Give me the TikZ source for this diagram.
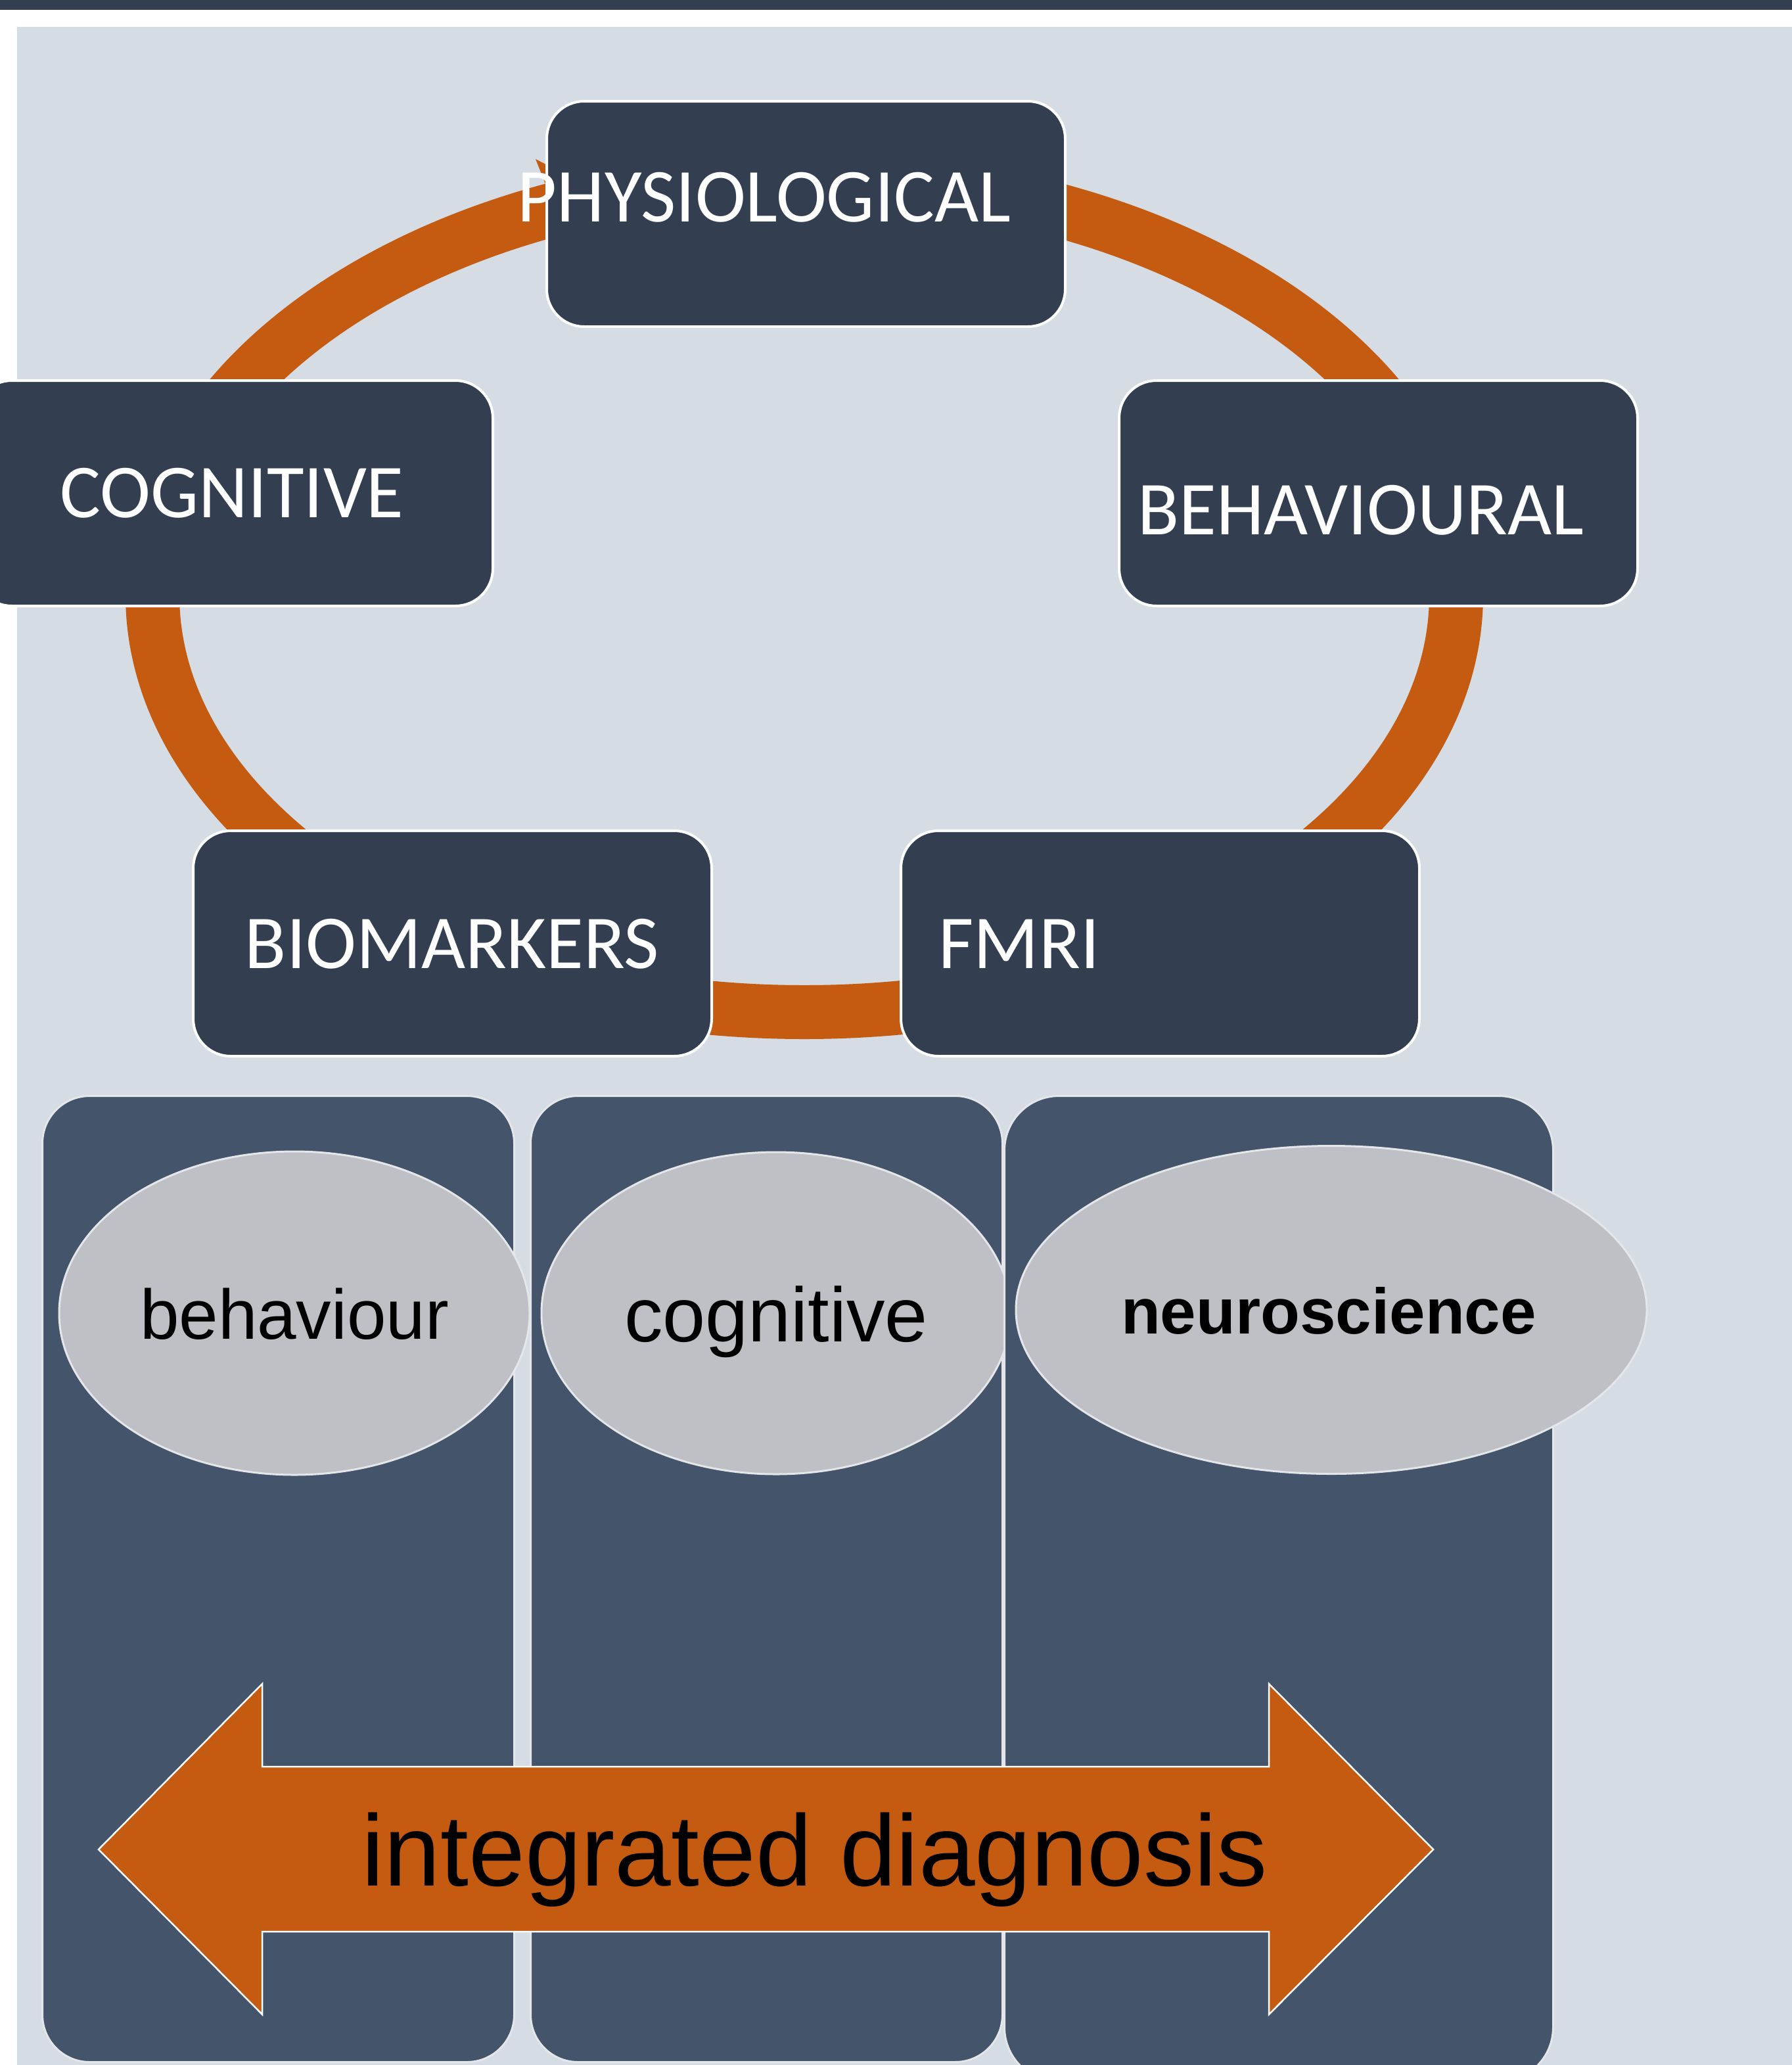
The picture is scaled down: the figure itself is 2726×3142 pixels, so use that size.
\documentclass[tikz,border=0pt]{standalone}
\usepackage{fontspec}
\setmainfont{Liberation Sans}
\newfontfamily\boxfont{Carlito}
\usetikzlibrary{shapes.geometric}
\definecolor{bgc}{HTML}{D6DCE4}
\definecolor{darkbox}{HTML}{333F50}
\definecolor{colc}{HTML}{44546A}
\definecolor{orng}{HTML}{C55A11}
\definecolor{ellc}{HTML}{BFC0C5}
\definecolor{edgec}{HTML}{E4E6EA}
\begin{document}
\begin{tikzpicture}[x=1pt,y=-1pt,
  topbox/.style={draw=white, line width=4pt, fill=darkbox, rounded corners=57pt,
    minimum width=789pt, minimum height=343pt, inner sep=0pt, anchor=north west},
  boxtext/.style={text=white, font=\boxfont\fontsize{116}{120}\selectfont, inner sep=0pt, anchor=base},
  column/.style={draw=edgec, line width=3pt, fill=colc, inner sep=0pt, anchor=north west},
  oval/.style={ellipse, draw=edgec, line width=3pt, fill=ellc, inner sep=0pt},
  ovaltext/.style={text=black, inner sep=0pt, anchor=base, font=\fontsize{107}{110}\selectfont},
  ring/.style={draw=orng, line width=82pt},
  bigarrow/.style={fill=orng, draw=white, line width=2.5pt}]
\useasboundingbox (0,0) rectangle (2726,3142);
% background
\fill[white] (-10,-10) rectangle (2740,3160);
\fill[darkbox] (-10,-10) rectangle (2740,15);
\fill[bgc] (26,41) rectangle (2740,3160);
% cycle ring
\draw[ring] (1224,905) ellipse [x radius=992pt, y radius=635pt];
\fill[orng] (815,242) -- (950,312) -- (860,400) -- (838,300) -- cycle;
% cycle boxes
\node[topbox] (phys) at (830,152) {};
\node[topbox] (cog) at (-41,577) {};
\node[topbox] (behav) at (1701,577) {};
\node[topbox] (biom) at (292,1262) {};
\node[topbox] (fmri) at (1369,1262) {};
\node[boxtext] (physT) at (1163,337) {PHYSIOLOGICAL};
\node[boxtext] (cogT) at (353,787) {COGNITIVE};
\node[boxtext] (behavT) at (2071,813) {BEHAVIOURAL};
\node[boxtext] (biomT) at (688,1473) {BIOMARKERS};
\node[boxtext] (fmriT) at (1551,1473) {FMRI};
% columns and ovals
\node[column, rounded corners=72pt, minimum width=718pt, minimum height=1470pt] (col1) at (63,1666) {};
\node[oval, minimum width=716pt, minimum height=492pt] (ov1) at (448,1998) {};
\node[column, rounded corners=72pt, minimum width=718pt, minimum height=1470pt] (col2) at (806,1666) {};
\node[oval, minimum width=714pt, minimum height=490pt] (ov2) at (1181,1998) {};
\node[column, rounded corners=83pt, minimum width=835pt, minimum height=1500pt] (col3) at (1527,1666) {};
\node[oval, minimum width=960pt, minimum height=499pt] (ov3) at (2026,1993) {};
\node[ovaltext] (ov1T) at (448,2037) {behaviour};
\node[ovaltext, font=\fontsize{117}{120}\selectfont] (ov2T) at (1181,2041) {cognitive};
\node[ovaltext, font=\bfseries\fontsize{98}{100}\selectfont] (ov3T) at (2022,2029) {neuroscience};
% double arrow
\draw[bigarrow] (150,2814) -- (399,2562) -- (399,2688) -- (1931,2688) -- (1931,2562)
  -- (2181,2814) -- (1931,3065) -- (1931,2939) -- (399,2939) -- (399,3065) -- cycle;
\node[inner sep=0pt, anchor=base, font=\fontsize{154}{160}\selectfont] (diag) at (1240,2869) {integrated diagnosis};
\end{tikzpicture}
\end{document}
